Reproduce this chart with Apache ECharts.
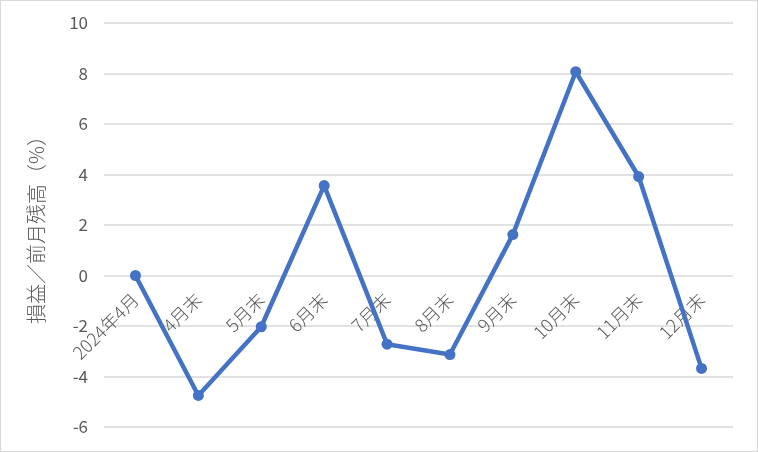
<!DOCTYPE html>
<html><head><meta charset="utf-8">
<script src="https://cdn.jsdelivr.net/npm/echarts@6/dist/echarts.min.js"></script>
<style>
html,body{margin:0;padding:0;background:#fff;}
#c{position:absolute;left:0;top:0;width:756px;height:450px;border:1px solid #d9d9d9;}
</style></head>
<body><div id="c"></div>
<script>
const categories = ['2024年4月','4月末','5月末','6月末','7月末','8月末','9月末','10月末','11月末','12月末'];
const values = [0, -4.75, -2.03, 3.56, -2.72, -3.13, 1.62, 8.07, 3.92, -3.68];
const yTicks = {min: -6, max: 10, interval: 2};
const yName = '損益／前月残高（%）';

const chart = echarts.init(document.getElementById('c'), null, {renderer:'canvas'});
const font = '"Noto Sans CJK JP", "Noto Sans", sans-serif';
const option = {
  animation:false,
  grid:{left:103, right:24, top:22, bottom:24, containLabel:false, outerBoundsMode:'none'},
  xAxis:{
    type:'category', data:categories, boundaryGap:true, position:'bottom', offset:0,
    axisLine:{show:false, onZero:false},
    axisTick:{show:false},
    axisLabel:{rotate:45, color:'#595959', fontSize:18, fontWeight:300, fontFamily:font, margin:21, interval:0}
  },
  yAxis:{
    type:'value', min:yTicks.min, max:yTicks.max, interval:yTicks.interval,
    name:yName, nameLocation:'middle', nameGap:58, nameRotate:90,
    nameTextStyle:{color:'#595959', fontSize:20, fontWeight:300, fontFamily:font},
    axisLine:{show:false}, axisTick:{show:false},
    axisLabel:{color:'#595959', fontSize:17, fontFamily:font, margin:16},
    splitLine:{lineStyle:{color:'#d9d9d9', width:1.5}}
  },
  series:[{
    type:'line', data:values, symbol:'circle', symbolSize:11,
    lineStyle:{color:'#4472C4', width:4.5}, itemStyle:{color:'#4472C4'}
  }]
};
chart.setOption(option);
// place the category labels at the value-axis zero line (as in the reference)
const yZero = chart.convertToPixel({yAxisIndex:0}, 0);
const yMin = chart.convertToPixel({yAxisIndex:0}, yTicks.min);
chart.setOption({xAxis:{offset: yZero - yMin}});
</script></body></html>
